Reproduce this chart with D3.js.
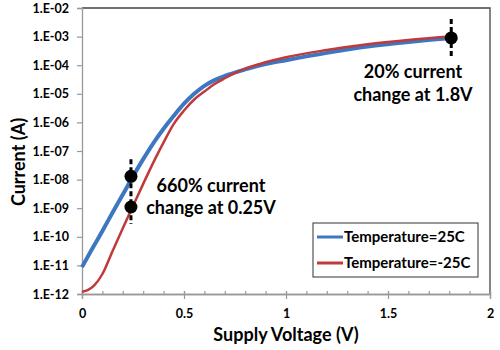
<!DOCTYPE html>
<html>
<head>
<meta charset="utf-8">
<script src="https://cdn.jsdelivr.net/npm/d3@7"></script>
<style>
  body { margin: 0; background: #fff; }
  text { font-family: Lato, "Open Sans", sans-serif; font-weight: bold; fill: #000; }
</style>
</head>
<body>
<div id="container"></div>
<script>
const width = 500,
    height = 350,
    margin = { top: 8, bottom: 56, left: 82, right: 10 };

// supply voltage (V)
const voltage = [0, 0.05, 0.1, 0.15, 0.2, 0.25, 0.3, 0.35, 0.4, 0.45, 0.5, 0.55, 0.6, 0.65, 0.7, 0.8, 0.9, 1.0, 1.2, 1.4, 1.6, 1.8];
// current (A) at 25C
const current25 = [8.7e-12, 3.8e-11, 1.6e-10, 7.1e-10, 3.0e-9, 1.3e-8, 5.2e-8, 1.9e-7, 6.0e-7, 1.7e-6, 4.5e-6, 1.0e-5, 1.9e-5, 3.0e-5, 4.2e-5, 7.1e-5, 1.1e-4, 1.5e-4, 2.7e-4, 4.5e-4, 6.5e-4, 8.7e-4];
// current (A) at -25C (finer points near 0 V)
const voltageCold = [0, 0.03, 0.06, 0.1, 0.15, 0.2, 0.25, 0.3, 0.35, 0.4, 0.45, 0.5, 0.55, 0.6, 0.65, 0.7, 0.8, 0.9, 1.0, 1.2, 1.4, 1.6, 1.8];
const currentMinus25 = [1.2e-12, 1.4e-12, 2.0e-12, 5.0e-12, 3.2e-11, 2.0e-10, 1.2e-9, 7.1e-9, 4.0e-8, 2.0e-7, 8.9e-7, 2.6e-6, 6.3e-6, 1.2e-5, 2.2e-5, 3.5e-5, 7.6e-5, 1.26e-4, 1.9e-4, 3.4e-4, 5.4e-4, 7.6e-4, 1.0e-3];

const seriesNames = ["Temperature=25C", "Temperature=-25C"];
const seriesColors = ["#3d77c0", "#c0393b"];

// marker points
const markerLow = { v: 0.24, top: 1.3e-8, bottom: 1.1e-9 };
const markerHigh = { v: 1.81, value: 9.0e-4 };

const yExponents = [-12, -11, -10, -9, -8, -7, -6, -5, -4, -3, -2];
const yTickLabels = ["1.E-12", "1.E-11", "1.E-10", "1.E-09", "1.E-08", "1.E-07", "1.E-06", "1.E-05", "1.E-04", "1.E-03", "1.E-02"];
const xTicks = [0, 0.5, 1, 1.5, 2];
const xMinorTicks = d3.range(0, 2.01, 0.1);

const svg = d3.select("#container")
    .append("svg")
    .attr("width", width)
    .attr("height", height)

const xScale = d3.scaleLinear()
    .domain([0, 2])
    .range([margin.left, width - margin.right])

const yScale = d3.scaleLog()
    .domain([1e-12, 1e-2])
    .range([height - margin.bottom, margin.top])

// frame top + right
svg.append("path")
    .attr("d", `M${margin.left},${margin.top}H${width - margin.right}V${height - margin.bottom}`)
    .attr("fill", "none")
    .attr("stroke", "#444")
    .attr("stroke-width", 1.3)

// X AXIS (minor ticks inside, major ticks crossing)
const gx = svg.append("g")
    .attr("transform", `translate(0,${height - margin.bottom})`)
gx.call(d3.axisBottom(xScale).tickValues(xMinorTicks).tickSize(-3).tickFormat(""))
gx.append("g").call(d3.axisBottom(xScale).tickValues(xTicks).tickSize(5).tickFormat(d => d))
gx.selectAll(".domain").attr("stroke", "#999").attr("stroke-width", 1.3)
gx.selectAll("line").attr("stroke", "#999").attr("stroke-width", 1.2)
gx.selectAll(".tick line")
    .filter(function (d) { return xTicks.includes(d) && this.getAttribute("y2") == 5 })
    .attr("y1", -3)
gx.selectAll("text").attr("font-size", 12.5).attr("dy", "1.3em").attr("font-family", null)

// Y AXIS
const gy = svg.append("g")
    .attr("transform", `translate(${margin.left},0)`)
    .call(d3.axisLeft(yScale)
        .tickValues(yExponents.map(e => Math.pow(10, e)))
        .tickSize(5)
        .tickPadding(8)
        .tickFormat((d, i) => yTickLabels[i]))
gy.selectAll(".domain").attr("stroke", "#999").attr("stroke-width", 1.3)
gy.selectAll("line").attr("stroke", "#999").attr("stroke-width", 1.2)
gy.selectAll("text").attr("font-size", 12.5).attr("font-family", null)

// curves
const line = d3.line()
    .x(d => xScale(d[0]))
    .y(d => yScale(d[1]))
    .curve(d3.curveMonotoneX)

const seriesData = [
    d3.zip(voltage, current25),
    d3.zip(voltageCold, currentMinus25)
]
const lineWidths = [4, 2.5]

svg.selectAll(".curve")
    .data(seriesData)
    .join("path")
    .attr("class", "curve")
    .attr("d", line)
    .attr("fill", "none")
    .attr("stroke", (d, i) => seriesColors[i])
    .attr("stroke-width", (d, i) => lineWidths[i])

// dashed marker lines
svg.append("line")
    .attr("x1", xScale(markerLow.v)).attr("x2", xScale(markerLow.v))
    .attr("y1", yScale(markerLow.top) - 17).attr("y2", yScale(markerLow.bottom) + 17)
    .attr("stroke", "#000").attr("stroke-width", 3).attr("stroke-dasharray", "5,3")
svg.append("line")
    .attr("x1", xScale(markerHigh.v)).attr("x2", xScale(markerHigh.v))
    .attr("y1", yScale(markerHigh.value) - 19).attr("y2", yScale(markerHigh.value) + 18)
    .attr("stroke", "#000").attr("stroke-width", 3).attr("stroke-dasharray", "5,3")

const dots = [[markerLow.v, markerLow.top], [markerLow.v, markerLow.bottom], [markerHigh.v, markerHigh.value]]
svg.selectAll(".dot")
    .data(dots)
    .join("circle")
    .attr("class", "dot")
    .attr("cx", d => xScale(d[0]))
    .attr("cy", d => yScale(d[1]))
    .attr("r", 6.5)
    .attr("fill", "#000")

// annotations
const note1 = svg.append("text").attr("x", 211).attr("y", 192).attr("text-anchor", "middle").attr("font-size", 18)
note1.append("tspan").attr("x", 211).text("660% current")
note1.append("tspan").attr("x", 211).attr("dy", 22).text("change at 0.25V")

const note2 = svg.append("text").attr("x", 413).attr("y", 78).attr("text-anchor", "middle").attr("font-size", 18)
note2.append("tspan").attr("x", 413).text("20% current")
note2.append("tspan").attr("x", 413).attr("dy", 23).text("change at 1.8V")

// axis titles
svg.append("text")
    .attr("x", (margin.left + width - margin.right) / 2)
    .attr("y", 341)
    .attr("text-anchor", "middle")
    .attr("font-size", 18)
    .text("Supply Voltage (V)")

svg.append("text")
    .attr("transform", "translate(25,162) rotate(-90)")
    .attr("text-anchor", "middle")
    .attr("font-size", 18)
    .text("Current (A)")

// legend
const legend = svg.append("g").attr("transform", "translate(313,223)")
legend.append("rect")
    .attr("width", 165).attr("height", 54)
    .attr("fill", "#fff").attr("stroke", "#333").attr("stroke-width", 1)
seriesNames.forEach((name, i) => {
    const y = 14 + i * 26
    legend.append("line")
        .attr("x1", 4).attr("x2", 30).attr("y1", y).attr("y2", y)
        .attr("stroke", seriesColors[i]).attr("stroke-width", 3)
    legend.append("text")
        .attr("x", 31).attr("y", y + 5)
        .attr("font-size", 15)
        .text(name)
})
</script>
</body>
</html>
